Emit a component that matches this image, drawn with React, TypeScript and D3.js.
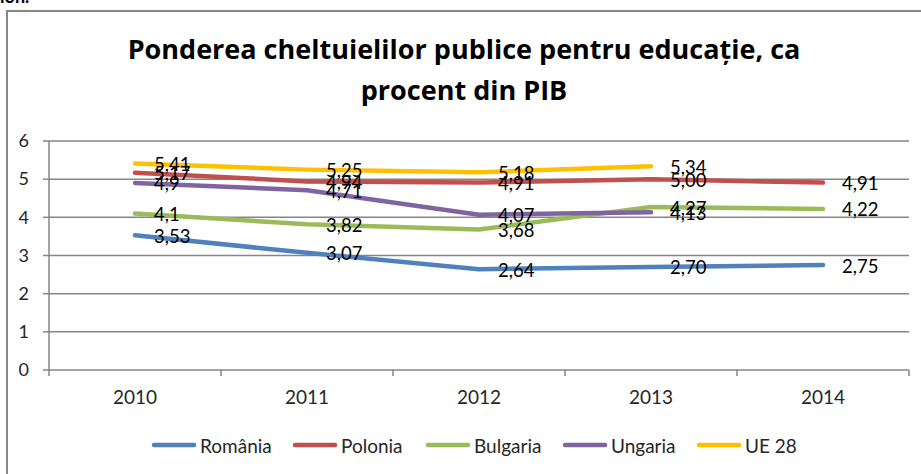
import React from 'react';
import * as d3 from 'd3';

const years = ['2010', '2011', '2012', '2013', '2014'];
const yTicks = [0, 1, 2, 3, 4, 5, 6];

const seriesNames = ['România', 'Polonia', 'Bulgaria', 'Ungaria', 'UE 28'];
const seriesColors = ['#4F81BD', '#C0504D', '#9BBB59', '#8064A2', '#FFC000'];

const romania = [3.53, 3.07, 2.64, 2.7, 2.75];
const polonia = [5.17, 4.94, 4.91, 5.0, 4.91];
const bulgaria = [4.1, 3.82, 3.68, 4.27, 4.22];
const ungaria = [4.9, 4.71, 4.07, 4.13, null];
const ue28 = [5.41, 5.25, 5.18, 5.34, null];

const romaniaLabels = ['3,53', '3,07', '2,64', '2,70', '2,75'];
const poloniaLabels = ['5,17', '4,94', '4,91', '5,00', '4,91'];
const bulgariaLabels = ['4,1', '3,82', '3,68', '4,27', '4,22'];
const ungariaLabels = ['4,9', '4,71', '4,07', '4,13', ''];
const ue28Labels = ['5,41', '5,25', '5,18', '5,34', ''];

const seriesValues = [romania, polonia, bulgaria, ungaria, ue28];
const seriesLabels = [romaniaLabels, poloniaLabels, bulgariaLabels, ungariaLabels, ue28Labels];

const titleLines = ['Ponderea cheltuielilor publice pentru educație, ca', 'procent din PIB'];

const W = 921;
const H = 474;
const font = 'Lato, "Open Sans", sans-serif';
const titleFont = '"Open Sans", Lato, sans-serif';
const axisColor = '#868686';

export default function App() {
  const x = d3.scaleBand<string>().domain(years).range([49, 909]);
  const y = d3.scaleLinear().domain([0, 6]).range([370, 141]);
  const cx = (yr: string) => (x(yr) as number) + x.bandwidth() / 2;

  const line = d3
    .line<number | null>()
    .defined(d => d != null)
    .x((d, i) => cx(years[i]))
    .y(d => y(d as number));

  const boundaries = years.map(yr => x(yr) as number).concat([909]);

  // legend text start positions
  const legendTextX = [200, 341, 474, 611, 745];

  return (
    <svg width={W} height={H} style={{ position: 'absolute', left: 0, top: 0, background: '#fff' }}>
      <rect x={0} y={0} width={W} height={H} fill="#fff" />
      <text x={0} y={3} fontFamily={font} fontWeight="bold" fontSize={18} fill="#000">ion.</text>
      {/* chart border */}
      <path d={`M7,${H}V11H${W}`} fill="none" stroke={axisColor} strokeWidth={2} />

      {titleLines.map((t, i) => (
        <text key={i} x={464} y={59 + i * 41} textAnchor="middle" fontFamily={titleFont}
          fontWeight="bold" fontSize={27} fill="#000">{t}</text>
      ))}

      {/* gridlines */}
      {yTicks.filter(t => t > 0).map(t => (
        <line key={t} x1={49} x2={909} y1={y(t)} y2={y(t)} stroke={axisColor} strokeWidth={1.5} />
      ))}
      {/* y axis */}
      <line x1={49} x2={49} y1={y(6)} y2={y(0)} stroke={axisColor} strokeWidth={1.5} />
      {yTicks.map(t => (
        <g key={t}>
          <line x1={43} x2={49} y1={y(t)} y2={y(t)} stroke={axisColor} strokeWidth={1.5} />
          <text x={29} y={y(t)} dy="0.35em" textAnchor="end" fontFamily={font} fontSize={18} fill="#262626">{t}</text>
        </g>
      ))}
      {/* x axis */}
      <line x1={49} x2={909} y1={y(0)} y2={y(0)} stroke={axisColor} strokeWidth={1.5} />
      {boundaries.map((b, i) => (
        <line key={i} x1={b} x2={b} y1={y(0)} y2={y(0) + 6} stroke={axisColor} strokeWidth={1.5} />
      ))}
      {years.map(yr => (
        <text key={yr} x={cx(yr)} y={404} textAnchor="middle" fontFamily={font} fontSize={19} fill="#262626">{yr}</text>
      ))}

      {/* lines */}
      {seriesValues.map((vals, s) => (
        <path key={s} d={line(vals) || ''} fill="none" stroke={seriesColors[s]} strokeWidth={4.5}
          strokeLinecap="round" strokeLinejoin="round" />
      ))}
      {/* data labels */}
      {seriesValues.map((vals, s) =>
        vals.map((v, i) =>
          v == null ? null : (
            <text key={`${s}-${i}`} x={cx(years[i]) + 19} y={y(v) + 1} dy="0.35em" fontFamily={font}
              fontSize={18.5} fill="#000">{seriesLabels[s][i]}</text>
          )
        )
      )}

      {/* legend */}
      {seriesNames.map((n, i) => (
        <g key={n}>
          <line x1={legendTextX[i] - 46} x2={legendTextX[i] - 6} y1={445} y2={445} stroke={seriesColors[i]}
            strokeWidth={4.5} strokeLinecap="round" />
          <text x={legendTextX[i]} y={446} dy="0.35em" fontFamily={font} fontSize={19} fill="#262626">{n}</text>
        </g>
      ))}
    </svg>
  );
}
